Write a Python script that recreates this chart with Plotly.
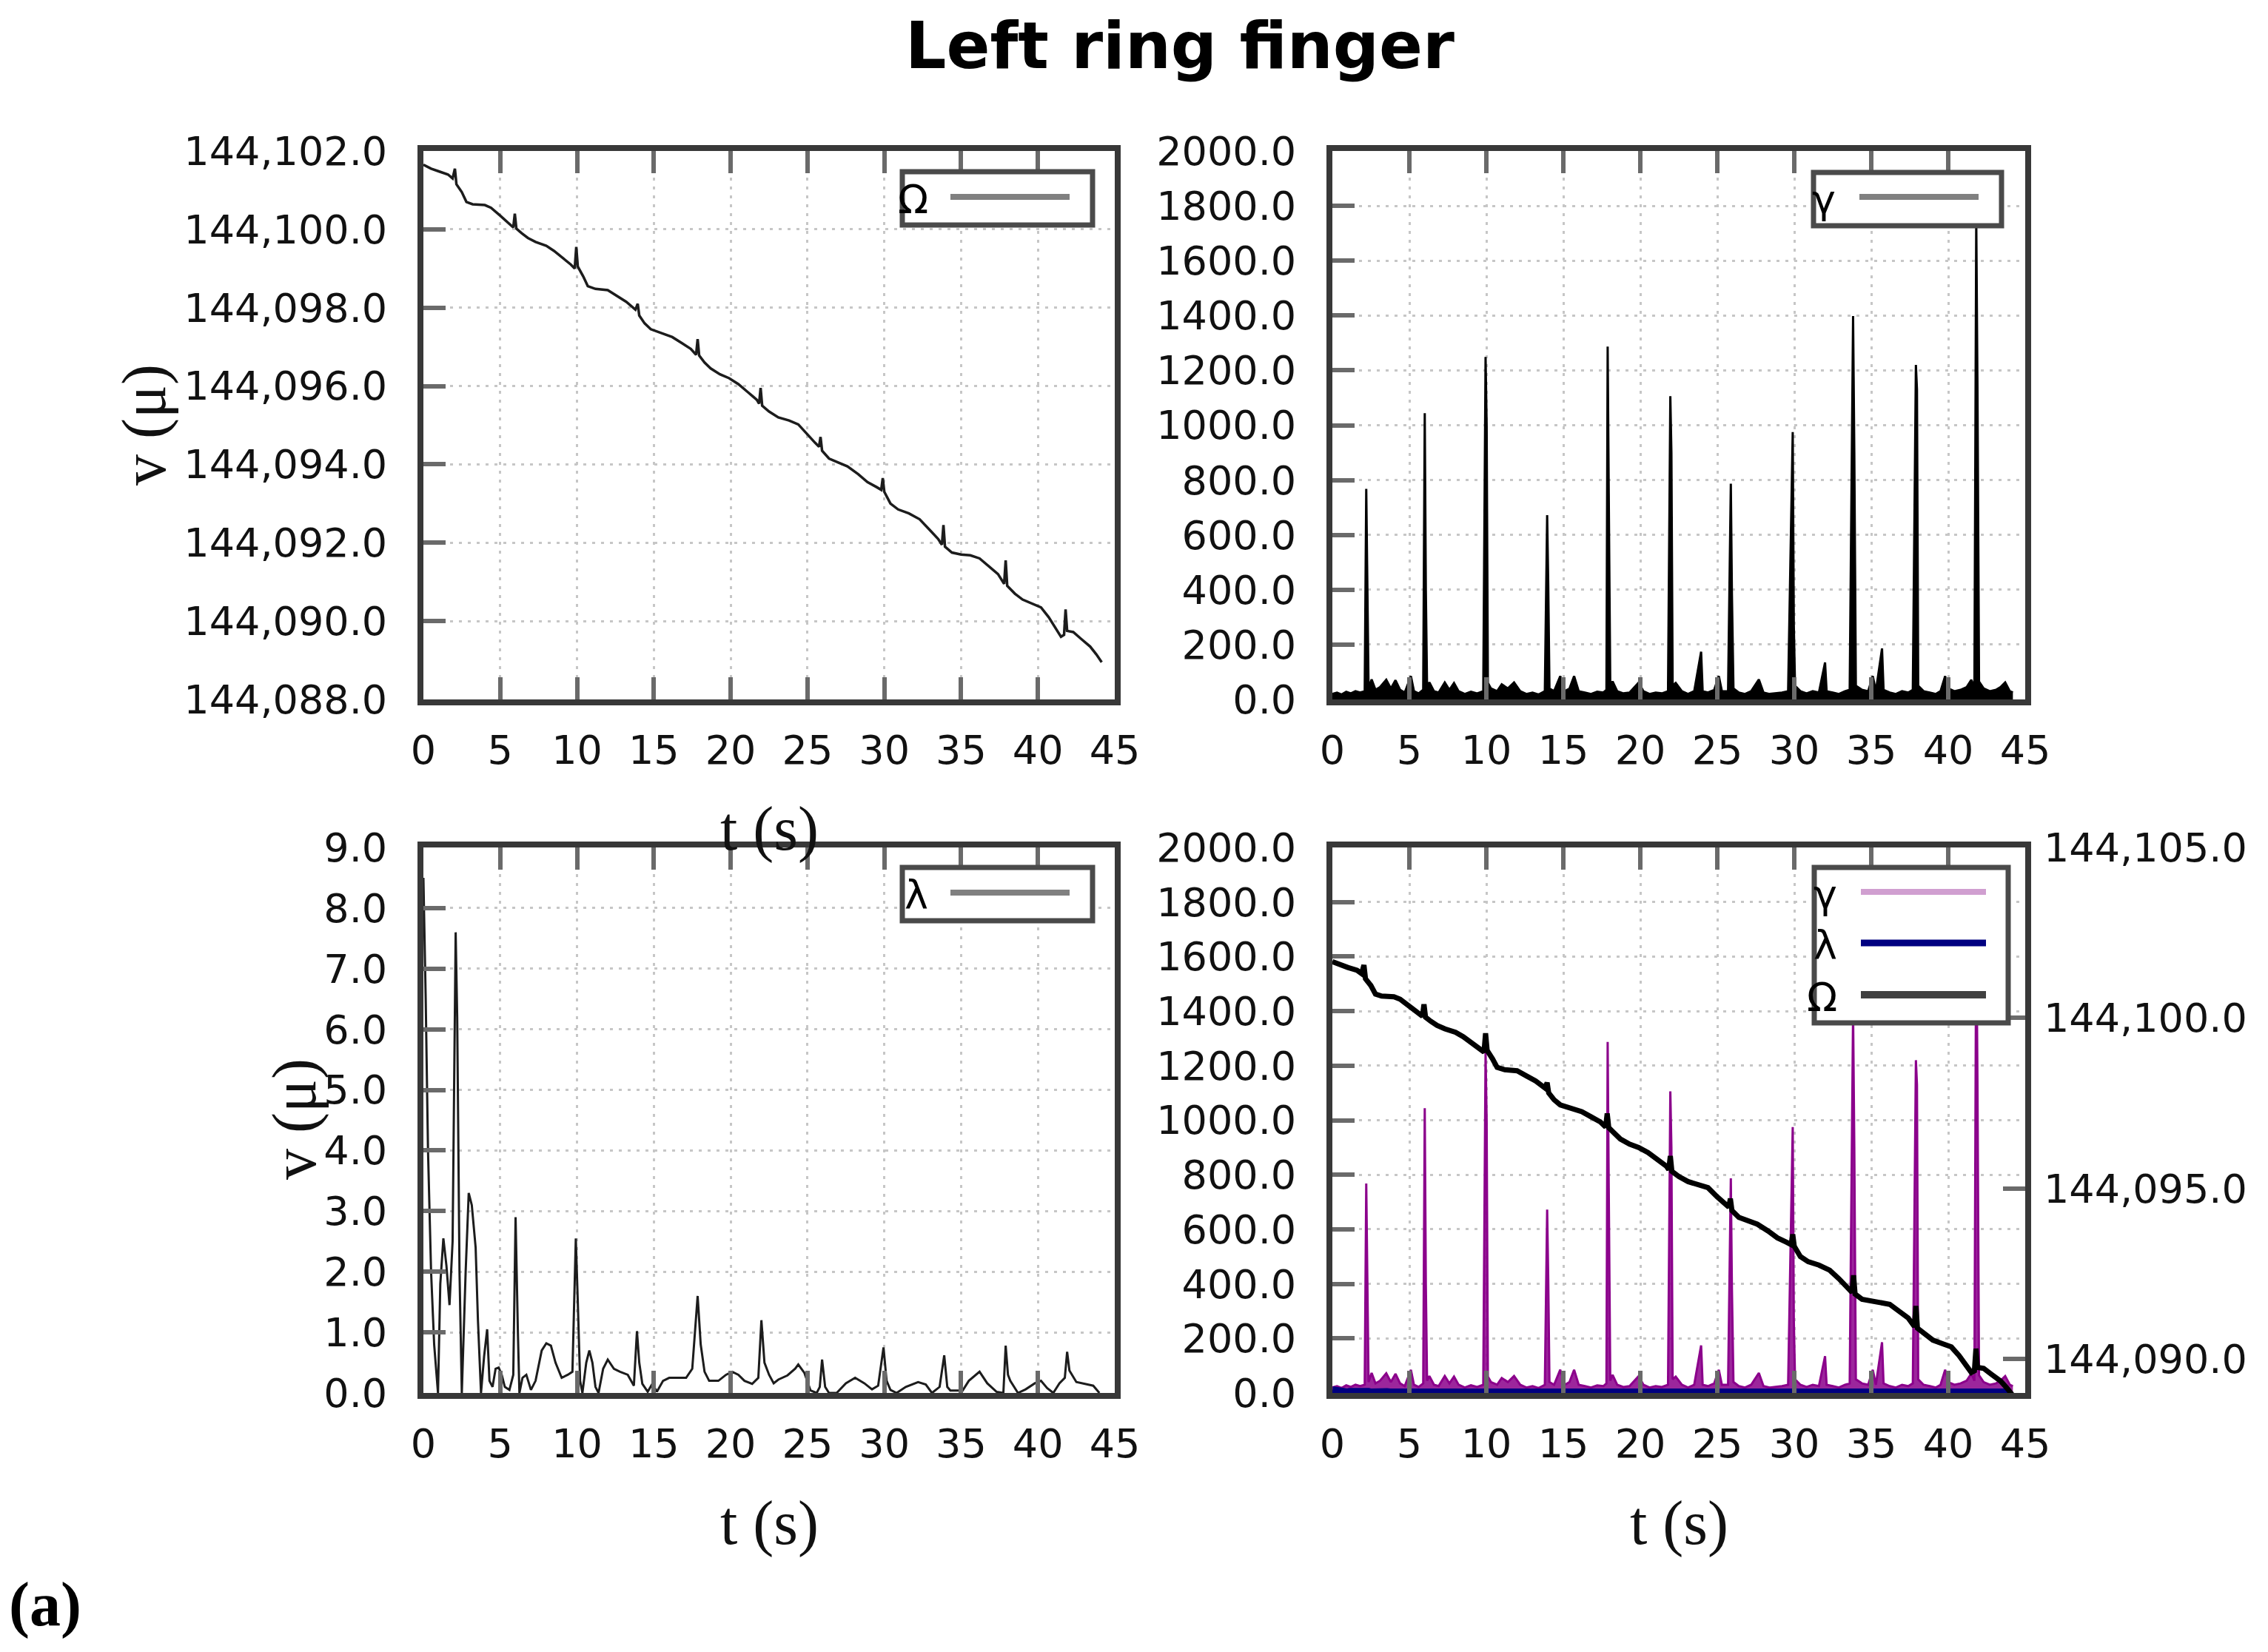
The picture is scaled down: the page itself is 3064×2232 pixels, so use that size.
import plotly.graph_objects as go

# page is 3064x2232; the html body has an 8px margin, so the figure is drawn 16px smaller
PAGE_W, PAGE_H = 3064, 2232
BODY = 8
W, H = PAGE_W - 2 * BODY, PAGE_H - 2 * BODY

# ---------------- data ----------------
omega_t = [0.0, 0.5, 1.0, 1.6, 1.9, 2.05, 2.15, 2.5, 2.8, 3.2, 4.0, 4.4, 5.0, 5.6, 5.85, 5.95, 6.05,
           6.4, 6.8, 7.3, 8.0, 8.5, 9.0, 9.6, 9.85, 9.95, 10.05, 10.4, 10.7, 11.2, 12.0, 12.6, 13.2,
           13.8, 13.95, 14.05, 14.4, 14.8, 15.5, 16.2, 16.8, 17.4, 17.75, 17.85, 17.95, 18.3, 18.7,
           19.3, 19.9, 20.5, 21.1, 21.7, 21.85, 21.95, 22.05, 22.5, 23.1, 23.8, 24.4, 25.0, 25.5,
           25.75, 25.85, 25.95, 26.4, 27.0, 27.6, 28.3, 28.9, 29.5, 29.8, 29.9, 30.0, 30.4, 30.9,
           31.6, 32.3, 32.9, 33.5, 33.75, 33.85, 33.95, 34.4, 35.0, 35.6, 36.2, 36.8, 37.4, 37.8,
           37.9, 38.0, 38.5, 39.0, 39.6, 40.2, 40.7, 41.2, 41.5, 41.7, 41.8, 41.9, 42.3, 42.8, 43.4,
           43.8, 44.15]
omega_v = [144101.65, 144101.55, 144101.48, 144101.40, 144101.30, 144101.55, 144101.15, 144100.95,
           144100.70, 144100.64, 144100.62, 144100.55, 144100.35, 144100.15, 144100.05, 144100.40,
           144100.02, 144099.90, 144099.78, 144099.68, 144099.58, 144099.45, 144099.30, 144099.10,
           144099.00, 144099.55, 144099.05, 144098.80, 144098.55, 144098.48, 144098.45, 144098.30,
           144098.15, 144097.95, 144098.10, 144097.80, 144097.60, 144097.45, 144097.35, 144097.25,
           144097.10, 144096.95, 144096.80, 144097.20, 144096.78, 144096.60, 144096.45, 144096.30,
           144096.20, 144096.05, 144095.85, 144095.65, 144095.55, 144095.95, 144095.50, 144095.35,
           144095.20, 144095.12, 144095.02, 144094.75, 144094.55, 144094.45, 144094.70, 144094.35,
           144094.15, 144094.05, 144093.95, 144093.75, 144093.55, 144093.42, 144093.35, 144093.65,
           144093.30, 144093.00, 144092.85, 144092.75, 144092.60, 144092.35, 144092.10, 144091.95,
           144092.45, 144091.90, 144091.75, 144091.70, 144091.68, 144091.60, 144091.40, 144091.20,
           144090.95, 144091.55, 144090.90, 144090.70, 144090.55, 144090.45, 144090.35, 144090.10,
           144089.80, 144089.60, 144089.65, 144090.30, 144089.75, 144089.72, 144089.55, 144089.35,
           144089.15, 144088.95]

gamma_t = [0.0, 0.3, 0.6, 0.9, 1.2, 1.5, 1.8, 2.1, 2.2, 2.27, 2.35, 2.55, 2.8, 3.1, 3.5, 3.8, 4.1,
           4.4, 4.7, 5.1, 5.3, 5.6, 5.9, 6.0, 6.07, 6.15, 6.3, 6.6, 6.9, 7.3, 7.6, 7.9, 8.2, 8.6,
           9.0, 9.4, 9.8, 9.95, 10.02, 10.1, 10.3, 10.7, 11.0, 11.4, 11.8, 12.2, 12.6, 13.0, 13.4,
           13.8, 13.95, 14.02, 14.1, 14.4, 14.8, 15.1, 15.4, 15.7, 16.0, 16.4, 16.8, 17.2, 17.6,
           17.8, 17.88, 17.95, 18.05, 18.2, 18.5, 18.9, 19.3, 19.9, 20.2, 20.6, 21.0, 21.4, 21.8,
           21.95, 22.02, 22.1, 22.3, 22.7, 23.1, 23.5, 23.95, 24.05, 24.4, 24.8, 25.1, 25.3, 25.7,
           25.88, 25.95, 26.05, 26.4, 26.8, 27.2, 27.7, 28.0, 28.4, 28.8, 29.2, 29.6, 29.9, 29.97,
           30.05, 30.4, 30.8, 31.2, 31.6, 32.0, 32.1, 32.5, 32.9, 33.3, 33.6, 33.82, 33.9, 34.0,
           34.4, 34.8, 35.1, 35.3, 35.7, 35.8, 36.2, 36.6, 37.0, 37.4, 37.7, 37.9, 37.97, 38.05,
           38.4, 38.8, 39.2, 39.5, 39.8, 40.0, 40.4, 40.8, 41.2, 41.5, 41.7, 41.82, 41.9, 42.0,
           42.3, 42.7, 43.1, 43.4, 43.7, 44.0, 44.2]
gamma_v = [20, 25, 18, 28, 22, 30, 25, 30, 768, 380, 40, 73, 35, 45, 72, 40, 70,
           35, 25, 85, 30, 22, 35, 1044, 400, 45, 62, 30, 25, 62, 35, 60, 30, 20,
           28, 22, 30, 1249, 1000, 60, 40, 30, 55, 40, 62, 30, 20, 25, 18,
           30, 672, 420, 40, 30, 85, 30, 40, 85, 30, 25, 20, 28, 25,
           35, 1287, 750, 45, 66, 30, 22, 25, 62, 30, 20, 25, 22, 30,
           1106, 900, 50, 60, 30, 20, 30, 174, 30, 25, 35, 85, 30, 30,
           787, 385, 40, 25, 20, 30, 73, 25, 20, 22, 25, 30, 975, 270,
           50, 30, 22, 30, 25, 135, 30, 25, 20, 30, 35, 1398, 900, 50,
           35, 30, 85, 30, 186, 35, 25, 20, 30, 25, 35, 1220, 1130, 50,
           30, 25, 20, 30, 85, 40, 30, 35, 45, 71, 45, 1750, 1130, 65,
           40, 30, 35, 45, 62, 30, 25]

lambda_t = [0.0, 0.15, 0.3, 0.5, 0.7, 0.95, 1.1, 1.3, 1.5, 1.7, 1.9, 2.1, 2.2, 2.35, 2.5, 2.75,
            2.95, 3.15, 3.4, 3.55, 3.75, 3.95, 4.15, 4.3, 4.5, 4.7, 4.9, 5.1, 5.3, 5.6, 5.85, 6.0,
            6.15, 6.25, 6.45, 6.7, 7.0, 7.3, 7.7, 8.0, 8.3, 8.6, 9.0, 9.4, 9.7, 9.92, 10.05, 10.2,
            10.35, 10.6, 10.8, 11.0, 11.2, 11.4, 11.7, 12.0, 12.4, 12.8, 13.3, 13.7, 13.9, 14.05,
            14.25, 14.6, 14.9, 15.2, 15.6, 16.0, 16.6, 17.1, 17.5, 17.85, 18.05, 18.3, 18.6, 19.2,
            19.7, 20.1, 20.5, 20.9, 21.4, 21.8, 22.0, 22.2, 22.5, 22.8, 23.1, 23.7, 24.2, 24.4,
            24.8, 25.2, 25.6, 25.8, 25.95, 26.15, 26.4, 26.9, 27.5, 28.1, 28.7, 29.2, 29.6, 29.95,
            30.15, 30.4, 30.8, 31.4, 32.2, 32.7, 33.1, 33.6, 33.9, 34.1, 34.3, 35.1, 35.5, 36.2,
            36.7, 37.3, 37.75, 37.9, 38.05, 38.2, 38.7, 39.2, 39.8, 40.2, 40.6, 41.0, 41.4, 41.75,
            41.9, 42.05, 42.5, 43.0, 43.6, 44.0]
lambda_v = [8.5, 6.5, 4.0, 2.0, 0.8, 0.0, 1.8, 2.55, 2.1, 1.45, 2.5, 7.6, 6.2, 2.0, 0.0, 2.0,
            3.3, 3.1, 2.4, 1.2, 0.0, 0.6, 1.05, 0.2, 0.1, 0.4, 0.42, 0.3, 0.1, 0.05, 0.3, 2.9,
            1.0, 0.0, 0.25, 0.3, 0.05, 0.2, 0.7, 0.82, 0.78, 0.5, 0.25, 0.3, 0.35, 2.55, 1.5, 0.2,
            0.0, 0.5, 0.7, 0.5, 0.1, 0.0, 0.4, 0.55, 0.4, 0.35, 0.3, 0.12, 1.02, 0.5,
            0.15, 0.02, 0.15, 0.02, 0.2, 0.25, 0.25, 0.25, 0.4, 1.6, 0.8, 0.35, 0.2, 0.2,
            0.3, 0.35, 0.3, 0.2, 0.15, 0.25, 1.2, 0.5, 0.3, 0.16, 0.22, 0.29, 0.4, 0.47,
            0.33, 0.04, 0.0, 0.1, 0.55, 0.1, 0.0, 0.0, 0.16, 0.25, 0.16, 0.06, 0.12, 0.75,
            0.2, 0.05, 0.0, 0.1, 0.18, 0.14, 0.0, 0.1, 0.62, 0.1, 0.04, 0.04, 0.2, 0.35,
            0.16, 0.02, 0.0, 0.78, 0.3, 0.2, 0.0, 0.06, 0.16, 0.2, 0.08, 0.0, 0.16, 0.25,
            0.68, 0.37, 0.18, 0.15, 0.12, 0.0]

x_range = [0, 45]
omega_range = [144088, 144102]
omega_range_right = [144089, 144105]
gamma_range = [0, 2000]
lambda_range = [0, 9]

title_text = "Left ring finger"
legend_omega, legend_gamma, legend_lambda = "Ω", "γ", "λ"

# ---------------- helpers (page pixel -> paper fraction) ----------------
def PX(p):
    return (p - BODY) / W

def PY(p):
    return 1 - (p - BODY) / H

TICK_FONT = dict(family="DejaVu Sans", size=54, color="#111111")
GRID = dict(showgrid=True, gridcolor="#c6c6c6", gridwidth=3, griddash="4px,8px")
FRAME = dict(showline=True, linecolor="#383838", linewidth=8)
TICKS = dict(ticks="inside", ticklen=30, tickwidth=6, tickcolor="#6a6a6a")

def xax(domain, anchor):
    return dict(domain=domain, anchor=anchor, range=x_range, tick0=0, dtick=5, zeroline=False,
                mirror="ticks", tickfont=TICK_FONT, ticklabelstandoff=14, automargin=False,
                **GRID, **FRAME, **TICKS)

def yax(domain, rng, dtick, fmt, anchor):
    return dict(domain=domain, range=rng, dtick=dtick, tickformat=fmt, zeroline=False,
                mirror=True, anchor=anchor, tickfont=TICK_FONT, ticklabelstandoff=30,
                automargin=False, **GRID, **FRAME, **TICKS)

# panel boxes in page pixels (left, top, right, bottom)
TL = (572, 204, 1506, 945)
TR = (1800, 204, 2736, 945)
BL = (572, 1145, 1506, 1882)
BR = (1800, 1145, 2736, 1882)

def xd(b):
    return [PX(b[0]), PX(b[2])]

def yd(b):
    return [PY(b[3]), PY(b[1])]

fig = go.Figure()

# top-left: Omega
fig.add_trace(go.Scatter(x=omega_t, y=omega_v, mode="lines", xaxis="x", yaxis="y",
                         line=dict(color="#1c1c1c", width=3.5), name=legend_omega, showlegend=False))
# top-right: gamma
fig.add_trace(go.Scatter(x=gamma_t, y=gamma_v, mode="lines", xaxis="x2", yaxis="y2",
                         fill="tozeroy", fillcolor="#000000",
                         line=dict(color="#000000", width=3), name=legend_gamma, showlegend=False))
# bottom-left: lambda
fig.add_trace(go.Scatter(x=lambda_t, y=lambda_v, mode="lines", xaxis="x3", yaxis="y3",
                         line=dict(color="#1c1c1c", width=3), name=legend_lambda, showlegend=False))
# bottom-right: combined
fig.add_trace(go.Scatter(x=gamma_t, y=gamma_v, mode="lines", xaxis="x4", yaxis="y4",
                         fill="tozeroy", fillcolor="rgba(139,0,139,0.85)",
                         line=dict(color="#8B008B", width=3), name=legend_gamma, showlegend=False))
fig.add_trace(go.Scatter(x=lambda_t, y=lambda_v, mode="lines", xaxis="x4", yaxis="y4",
                         line=dict(color="#000080", width=12), name=legend_lambda, showlegend=False))
fig.add_trace(go.Scatter(x=omega_t, y=omega_v, mode="lines", xaxis="x4", yaxis="y5",
                         line=dict(color="#000000", width=7), name=legend_omega, showlegend=False))

fig.update_layout(
    width=W, height=H, margin=dict(l=0, r=0, t=0, b=0, autoexpand=False),
    paper_bgcolor="white", plot_bgcolor="white", showlegend=False,
    title=dict(text="<b>" + title_text + "</b>", x=PX(1594), xanchor="center",
               y=PY(62), yanchor="middle", automargin=False,
               font=dict(family="DejaVu Sans", size=87, color="#000000")),
    xaxis=xax(xd(TL), "y"),
    yaxis=yax(yd(TL), omega_range, 2, ",.1f", "x"),
    xaxis2=xax(xd(TR), "y2"),
    yaxis2=yax(yd(TR), gamma_range, 200, ".1f", "x2"),
    xaxis3=xax(xd(BL), "y3"),
    yaxis3=yax(yd(BL), lambda_range, 1, ".1f", "x3"),
    xaxis4=xax(xd(BR), "y4"),
    yaxis4=yax(yd(BR), gamma_range, 200, ".1f", "x4"),
    yaxis5=dict(range=omega_range_right, overlaying="y4", anchor="x4", side="right",
                tick0=144090, dtick=5, tickformat=",.1f", showgrid=False, zeroline=False,
                showline=False, tickfont=TICK_FONT, ticklabelstandoff=24, automargin=False,
                **TICKS),
)

shapes = []
annotations = []

def legend(box, entries):
    x0, y0, x1, y1 = box
    shapes.append(dict(type="rect", xref="paper", yref="paper", x0=PX(x0), x1=PX(x1),
                       y0=PY(y1), y1=PY(y0), fillcolor="white",
                       line=dict(color="#4a4a4a", width=7), layer="above"))
    for (label, lx0, lx1, ly, color, lw, tx) in entries:
        shapes.append(dict(type="line", xref="paper", yref="paper", x0=PX(lx0), x1=PX(lx1),
                           y0=PY(ly), y1=PY(ly), line=dict(color=color, width=lw), layer="above"))
        annotations.append(dict(text=label, xref="paper", yref="paper", x=PX(tx), y=PY(ly + 3),
                                xanchor="right", yanchor="middle", showarrow=False,
                                font=dict(family="DejaVu Sans", size=54, color="#000000")))

legend((1219, 232, 1476, 304), [(legend_omega, 1284, 1445, 266, "#808080", 8, 1256)])
legend((2450, 233, 2704, 305), [(legend_gamma, 2512, 2673, 266, "#808080", 8, 2482)])
legend((1219, 1172, 1476, 1244), [(legend_lambda, 1284, 1445, 1206, "#808080", 8, 1256)])
legend((2451, 1172, 2713, 1382), [
    (legend_gamma, 2514, 2683, 1205, "#D09FD0", 8, 2484),
    (legend_lambda, 2514, 2683, 1274, "#000080", 9, 2484),
    (legend_omega, 2514, 2683, 1344, "#404040", 10, 2484),
])

AX_FONT = dict(family="Liberation Serif", size=84, color="#111111")

def label(text, x, y, angle=0, font=AX_FONT, xanchor="center"):
    annotations.append(dict(text=text, xref="paper", yref="paper", x=PX(x), y=PY(y),
                            xanchor=xanchor, yanchor="middle", showarrow=False,
                            textangle=angle, font=font))

label("v (μ)", 195, 574, -90)
label("v (μ)", 398, 1512, -90)
label("t (s)", 1039, 1120)
label("t (s)", 1039, 2058)
label("t (s)", 2268, 2058)
label("<b>(a)</b>", 10, 2168, font=dict(family="Liberation Serif", size=84, color="#000000"),
      xanchor="left")

fig.update_layout(shapes=shapes, annotations=annotations)
fig.write_html("out.html")
